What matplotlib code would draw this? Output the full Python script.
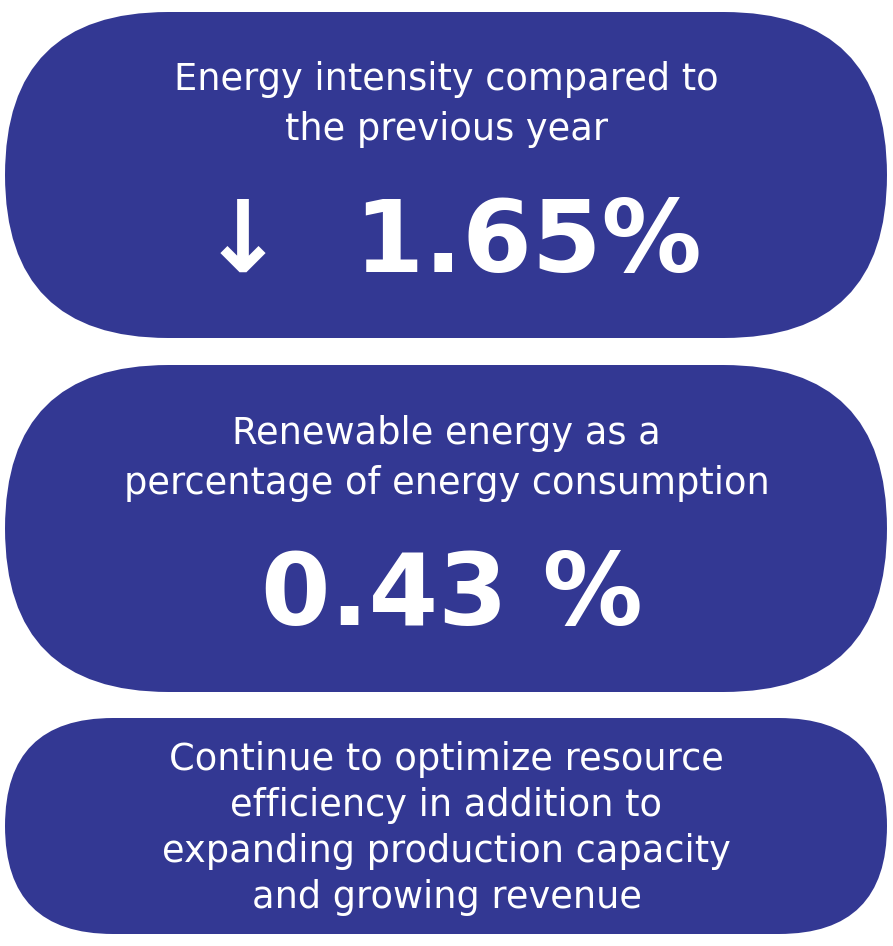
import matplotlib.pyplot as plt
from matplotlib.patches import FancyBboxPatch

W, H = 893, 946
PILL_COLOR = "#333893"

# pill boxes: (top, bottom) in pixels
pill_tops = [12, 365, 718]
pill_bottoms = [338, 692, 934]

titles = [
    ["Energy intensity compared to", "the previous year"],
    ["Renewable energy as a", "percentage of energy consumption"],
    ["Continue to optimize resource", "efficiency in addition to",
     "expanding production capacity", "and growing revenue"],
]
values = ["\u2193  1.65%", "0.43 %", None]

fig = plt.figure(figsize=(W / 100, H / 100), dpi=100)
ax = fig.add_axes([0, 0, 1, 1])
ax.set_xlim(0, W)
ax.set_ylim(H, 0)
ax.axis("off")

for i, (top, bot) in enumerate(zip(pill_tops, pill_bottoms)):
    h = bot - top
    box = FancyBboxPatch((5, top), 882, h,
                         boxstyle=f"round,pad=0,rounding_size={h / 2}",
                         fc=PILL_COLOR, ec="none")
    ax.add_patch(box)

    lines = titles[i]
    if values[i] is not None:
        y0 = top + 68
        step = 50
    else:
        y0 = top + 41
        step = 46
    for j, line in enumerate(lines):
        ax.text(W / 2, y0 + j * step, line, color="white", fontsize=26.5,
                family="DejaVu Sans", ha="center", va="center")
    if values[i] is not None:
        ax.text(W / 2 + 5, top + 232, values[i], color="white", fontsize=72,
                family="DejaVu Sans", weight="bold", ha="center", va="center")

fig.savefig("out.png", dpi=100, facecolor="white")
